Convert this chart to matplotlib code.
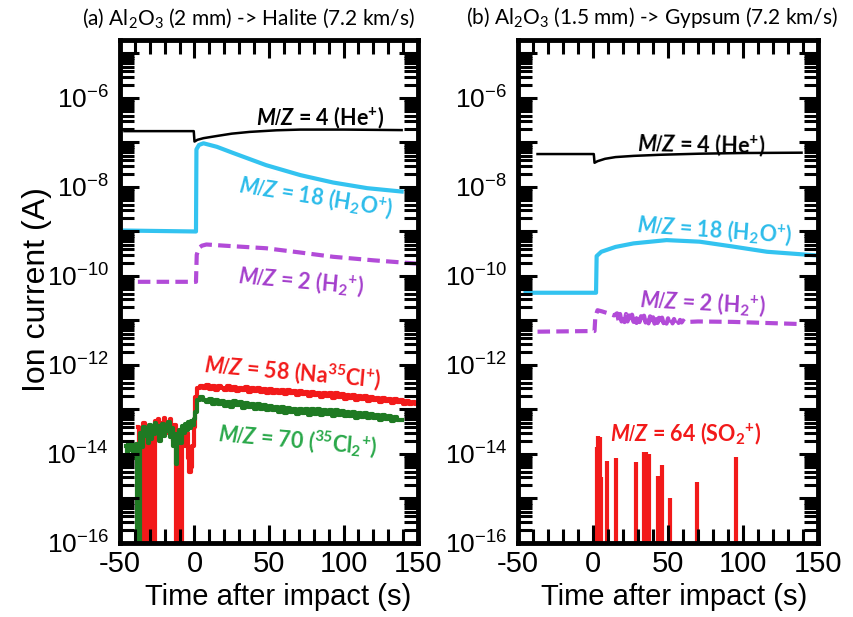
# -*- coding: utf-8 -*-

import numpy as np
import matplotlib
matplotlib.use('Agg')
import matplotlib.pyplot as plt
from matplotlib.ticker import LogLocator, MultipleLocator, FuncFormatter, NullFormatter

plt.rcParams['font.family'] = 'Liberation Sans'
plt.rcParams['axes.unicode_minus'] = False
plt.rcParams['mathtext.fontset'] = 'custom'
plt.rcParams['mathtext.rm'] = 'Liberation Sans'
plt.rcParams['mathtext.it'] = 'Lato:italic:bold'
plt.rcParams['mathtext.bf'] = 'Lato:bold'
plt.rcParams['mathtext.sf'] = 'Lato'

# ---------------- panel (a): Al2O3 -> Halite ----------------
he_a_t = [-47, -0.5, 0, 2, 6, 15, 25, 37, 55, 71, 100, 139]
he_a = [1.8e-7, 1.8e-7, 1.05e-7, 1.15e-7, 1.25e-7, 1.4e-7, 1.58e-7, 1.73e-7, 1.88e-7, 1.95e-7, 1.95e-7, 1.9e-7]

h2o_a_t = [-47, 1, 1.3, 3, 6, 15, 26, 48, 71, 93, 116, 139]
h2o_a = [1.05e-9, 1.0e-9, 7.0e-8, 8.8e-8, 9.6e-8, 8.0e-8, 5.8e-8, 3.1e-8, 1.85e-8, 1.26e-8, 9.4e-9, 7.9e-9]

h2_a_t = [-38, 1, 1.5, 3, 5, 8, 20, 48, 70, 93, 120, 149]
h2_a = [7.4e-11, 7.4e-11, 3.0e-10, 4.3e-10, 4.8e-10, 5.1e-10, 4.8e-10, 4.2e-10, 3.4e-10, 2.7e-10, 2.25e-10, 1.9e-10]

# noisy traces (pre-impact every 1 s, post every 2 s)
nacl_pre_t = np.arange(-38, 1)
nacl_pre = np.array([4.0, 0.001, 3.0, 0.001, 5.0, 0.001, 0.001, 4.0, 0.001, 3.5,
                     0.001, 0.001, 5.5, 4.0, 6.0, 3.5, 5.0, 4.5, 6.5, 3.0,
                     5.0, 4.0, 6.0, 3.5, 2.0, 4.5, 0.001, 0.001, 3.0, 0.001,
                     2.5, 4.0, 1.5, 3.0, 0.8, 0.4, 0.5, 1.5, 4.0]) * 1e-14
nacl_post_t = np.arange(1, 150, 2)
nacl_post = np.array([1.9, 3.0, 3.4, 3.0, 3.5, 2.9, 3.3, 2.8, 3.4, 3.0,
                      2.7, 3.3, 2.8, 3.2, 2.6, 3.1, 2.7, 3.2, 2.5, 3.0,
                      2.6, 3.1, 2.5, 2.9, 2.4, 2.9, 2.3, 2.8, 2.4, 2.7,
                      2.2, 2.7, 2.3, 2.6, 2.1, 2.6, 2.2, 2.5, 2.0, 2.5,
                      2.1, 2.4, 1.9, 2.4, 2.0, 2.3, 1.8, 2.3, 1.9, 2.2,
                      1.7, 2.1, 1.8, 2.1, 1.6, 2.0, 1.7, 2.0, 1.55, 1.9,
                      1.6, 1.85, 1.5, 1.8, 1.55, 1.75, 1.4, 1.7, 1.45, 1.6,
                      1.3, 1.55, 1.35, 1.5, 1.3]) * 1e-13

cl2_pre_t = np.arange(-46, 1)
cl2_pre = np.array([1.5, 0.6, 1.8, 1.2, 1.6, 0.8, 1.5, 1.7, 0.001, 0.001,
                    3.0, 1.4, 4.0, 2.5, 3.5, 1.8, 4.5, 2.2, 3.8, 2.8,
                    5.0, 3.0, 4.2, 2.0, 3.6, 4.8, 2.6, 4.0, 3.2, 5.2,
                    2.4, 3.8, 1.5, 2.8, 0.6, 2.2, 3.5, 1.8, 4.2, 3.0,
                    4.6, 3.4, 5.2, 3.8, 5.5, 4.5, 6.0]) * 1e-14
cl2_post_t = np.arange(1, 140, 2)
cl2_post = np.array([0.9, 1.6, 1.9, 1.6, 1.45, 1.7, 1.3, 1.6, 1.3, 1.55,
                     1.2, 1.5, 1.15, 1.55, 1.25, 1.45, 1.1, 1.4, 1.15, 1.35,
                     1.05, 1.3, 1.0, 1.25, 0.95, 1.2, 0.95, 1.15, 0.9, 1.15,
                     0.85, 1.1, 0.9, 1.05, 0.8, 1.05, 0.85, 1.0, 0.75, 1.0,
                     0.8, 1.0, 0.75, 0.97, 0.8, 0.95, 0.72, 0.95, 0.75, 0.92,
                     0.7, 0.9, 0.73, 0.86, 0.65, 0.85, 0.68, 0.82, 0.63, 0.8,
                     0.66, 0.76, 0.58, 0.74, 0.6, 0.72, 0.55, 0.68, 0.57, 0.58]) * 1e-13

# ---------------- panel (b): Al2O3 -> Gypsum ----------------
he_b_t = [-37, 0.5, 1, 3, 8, 15, 27, 45, 71, 100, 139]
he_b = [5.5e-8, 5.5e-8, 3.5e-8, 3.8e-8, 4.3e-8, 4.7e-8, 5.0e-8, 5.3e-8, 5.6e-8, 5.8e-8, 5.9e-8]

h2o_b_t = [-45, 2, 2.4, 5.5, 15, 27, 49, 71, 93, 116, 149]
h2o_b = [4.2e-11, 4.2e-11, 2.8e-10, 3.5e-10, 4.5e-10, 5.4e-10, 6.4e-10, 5.9e-10, 4.6e-10, 3.5e-10, 2.9e-10]

h2_b_t = np.concatenate([[-37, 1, 1.5, 3, 6, 10, 14], np.arange(16, 62), [70, 93, 115, 139]])
h2_b = np.array([0.56, 0.58, 1.2, 1.7, 1.6, 1.45, 1.3,
                 1.45, 1.0, 1.4, 0.95, 1.35, 0.92, 1.4, 0.95, 1.3, 0.9,
                 1.35, 0.93, 1.28, 0.88, 1.3, 0.92, 1.25, 0.87, 1.28, 0.9,
                 1.2, 0.86, 1.24, 0.9, 1.18, 0.85, 1.2, 0.88, 1.15, 0.85,
                 1.16, 0.87, 1.12, 0.85, 1.12, 0.86, 1.08, 0.86, 1.08, 0.87,
                 1.05, 0.88, 1.03, 0.9, 1.0, 0.92,
                 0.95, 0.93, 0.88, 0.83]) * 1e-11

so2_t = [2.5, 3.5, 4.5, 5.5, 9.5, 15.3, 28.5, 34.2, 35.2, 37.5, 43.5, 45.7, 51.3, 69.5, 95]
so2 = [1.45e-14, 2.5e-14, 2.4e-14, 3e-15, 7e-15, 8.3e-15, 6.5e-15, 1.1e-14, 1.1e-14,
       1.0e-14, 3.2e-15, 5.6e-15, 1.0e-15, 2.3e-15, 8.5e-15]
floor = 1e-17

# colours
c_cyan = '#33c3f0'
c_purple = '#b24bd8'
c_red = '#f21a1a'
c_green = '#1f7a23'
c_green_txt = '#2aa84a'
c_purple_txt = '#a43fcc'
c_cyan_txt = '#2dbcea'

he_lbl = r'$\mathit{M/Z}$ = 4 (He$^{\mathbf{+}}$)'
h2o_lbl = r'$\mathit{M/Z}$ = 18 (H$_{\mathbf{2}}$O$^{\mathbf{+}}$)'
h2_lbl = r'$\mathit{M/Z}$ = 2 (H$_{\mathbf{2}}{}^{\mathbf{+}}$)'
nacl_lbl = r'$\mathit{M/Z}$ = 58 (Na${}^{\mathbf{35}}$Cl$^{\mathbf{+}}$)'
cl2_lbl = r'$\mathit{M/Z}$ = 70 (${}^{\mathbf{35}}$Cl$_{\mathbf{2}}{}^{\mathbf{+}}$)'
so2_lbl = r'$\mathit{M/Z}$ = 64 (SO$_{\mathbf{2}}{}^{\mathbf{+}}$)'


# only every second decade gets a label
def decade_label(v, pos):
  e = int(round(np.log10(v)))
  if e % 2:
    return ''
  return r'$\mathdefault{10^{%d}}$' % e


def style_axes(ax):
  ax.set_yscale('log')
  ax.set_xlim(-50, 150)
  ax.set_ylim(1e-16, 2e-5)
  ax.xaxis.set_major_locator(MultipleLocator(50))
  ax.xaxis.set_minor_locator(MultipleLocator(10))
  ax.yaxis.set_major_locator(LogLocator(base=10, numticks=30))
  ax.yaxis.set_minor_locator(LogLocator(base=10, subs=np.arange(2, 10), numticks=30))
  ax.yaxis.set_major_formatter(FuncFormatter(decade_label))
  ax.yaxis.set_minor_formatter(NullFormatter())
  ax.tick_params(which='both', direction='in', top=True, right=True, width=2.2)
  ax.tick_params(axis='x', which='major', length=13, labelsize=21, pad=5)
  ax.tick_params(axis='x', which='minor', length=10)
  ax.tick_params(axis='y', which='major', length=14, labelsize=19, pad=8)
  ax.tick_params(axis='y', which='minor', length=10)
  for s in ax.spines.values():
    s.set_linewidth(3.5)
  ax.set_axisbelow(False)
  ax.set_xlabel('Time after impact (s)', fontsize=21)


def put_label(ax, text, t, v, color, rot=0):
  ax.text(t, v, text, color=color, rotation=rot, rotation_mode='anchor',
          ha='center', va='center', fontsize=15.5, fontfamily='Lato', fontweight='bold')


fig = plt.figure(figsize=(8.54, 6.17), dpi=100)
ax_a = fig.add_axes([0.1405, 0.12, 0.349, 0.815])
ax_b = fig.add_axes([0.6066, 0.12, 0.3513, 0.815])

# panel (a)
ax_a.plot(he_a_t, he_a, color='k', lw=1.8)
ax_a.plot(h2o_a_t, h2o_a, color=c_cyan, lw=3)
ax_a.plot(h2_a_t, h2_a, color=c_purple, lw=3, ls=(0, (3, 1.5)))
ax_a.plot(np.concatenate([nacl_pre_t, nacl_post_t]), np.concatenate([nacl_pre, nacl_post]),
          color=c_red, lw=3, drawstyle='steps-mid')
ax_a.plot(np.concatenate([cl2_pre_t, cl2_post_t]), np.concatenate([cl2_pre, cl2_post]),
          color=c_green, lw=3, drawstyle='steps-mid')

put_label(ax_a, he_lbl, 84, 3.6e-7, 'k')
put_label(ax_a, h2o_lbl, 81.5, 6e-9, c_cyan_txt, -9)
put_label(ax_a, h2_lbl, 71.5, 7.4e-11, c_purple_txt, -5)
put_label(ax_a, nacl_lbl, 66, 6.9e-13, c_red, -5)
put_label(ax_a, cl2_lbl, 69, 2e-14, c_green_txt, -5)

# panel (b)
ax_b.plot(he_b_t, he_b, color='k', lw=1.8)
ax_b.plot(h2o_b_t, h2o_b, color=c_cyan, lw=3)
ax_b.plot(h2_b_t, h2_b, color=c_purple, lw=3, ls=(0, (3, 1.5)))
ax_b.vlines(so2_t, floor, so2, color=c_red, lw=3)

put_label(ax_b, he_lbl, 72, 8.7e-8, 'k', -1)
put_label(ax_b, h2o_lbl, 81, 1.07e-9, c_cyan_txt, -4)
put_label(ax_b, h2_lbl, 73, 2.5e-11, c_purple_txt, -3)
put_label(ax_b, so2_lbl, 62, 2.8e-14, c_red)

for ax in (ax_a, ax_b):
  style_axes(ax)
ax_a.xaxis.set_label_coords(0.53, -0.08)
ax_b.xaxis.set_label_coords(0.52, -0.08)

ax_a.text(0.43, 1.044, r'(a) Al$_{\mathsf{2}}$O$_{\mathsf{3}}$ (2 mm) -> Halite (7.2 km/s)',
          transform=ax_a.transAxes, ha='center', va='center', fontsize=15, fontfamily='Lato')
ax_b.text(0.447, 1.044, r'(b) Al$_{\mathsf{2}}$O$_{\mathsf{3}}$ (1.5 mm) -> Gypsum (7.2 km/s)',
          transform=ax_b.transAxes, ha='center', va='center', fontsize=15, fontfamily='Lato')

fig.text(37 / 854, 1 - 290 / 617, 'Ion current (A)', rotation=90, ha='center', va='center', fontsize=23)

fig.savefig('out.png', dpi=100)
